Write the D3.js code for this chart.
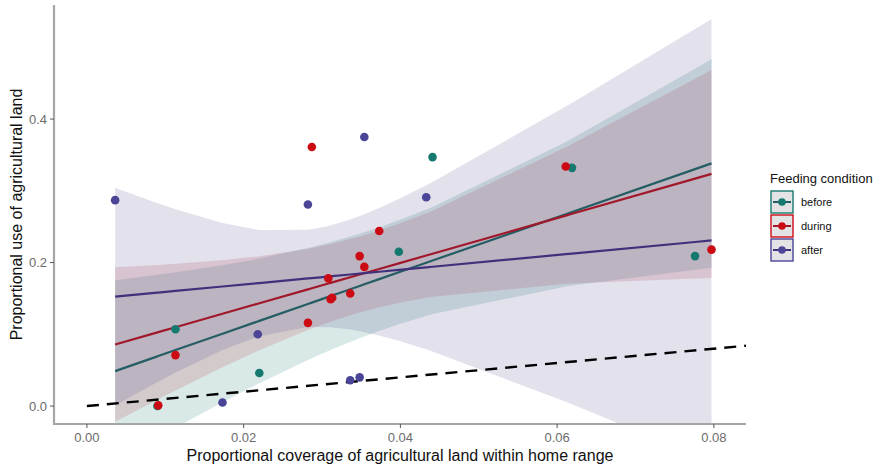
<!DOCTYPE html>
<html lang="en">
<head>
    <meta charset="UTF-8">
    <script src="https://d3js.org/d3.v7.min.js"></script>
    <title>Agricultural land use</title>
    <style>
        body { margin: 0; background: #fff; }
        text { font-family: "Liberation Sans", Arial, sans-serif; }
    </style>
</head>
<body>
<svg width="881" height="466" id="chart"></svg>
<script>
    // Data
    const conditions = ["before", "during", "after"];

    const beforeX = [0.0090, 0.0113, 0.0220, 0.0398, 0.0441, 0.0619, 0.0776];
    const beforeY = [0.000, 0.107, 0.046, 0.215, 0.347, 0.332, 0.209];

    const duringX = [0.0091, 0.0113, 0.0282, 0.0287, 0.0308, 0.0311, 0.0313, 0.0336, 0.0348, 0.0354, 0.0373, 0.0611, 0.0797];
    const duringY = [0.001, 0.071, 0.116, 0.361, 0.178, 0.149, 0.151, 0.157, 0.209, 0.194, 0.244, 0.334, 0.218];

    const afterX = [0.0036, 0.0173, 0.0218, 0.0282, 0.0336, 0.0348, 0.0354, 0.0433];
    const afterY = [0.287, 0.005, 0.100, 0.281, 0.036, 0.040, 0.375, 0.291];

    const xTicks = [0.00, 0.02, 0.04, 0.06, 0.08];
    const yTicks = [0.0, 0.2, 0.4];

    // colours for points, fitted lines and the confidence ribbons
    const pointColor = { before: "#15796f", during: "#cc0a14", after: "#4a4597" };
    const lineColor = { before: "#245e64", during: "#a1182b", after: "#41317c" };
    const ribbonColor = { before: "#1d7c75", during: "#b41d30", after: "#3d3480" };
    const ribbonAlpha = { before: 0.17, during: 0.15, after: 0.15 };

    // one model, use ~ coverage * condition, so the residual error is shared.
    // 90% band: t quantile for df = 28 - 6 = 22
    const tCrit = 1.717;

    const groups = [
        { name: "before", xs: beforeX, ys: beforeY },
        { name: "during", xs: duringX, ys: duringY },
        { name: "after", xs: afterX, ys: afterY }
    ];

    const svg = d3.select("#chart");

    const padLeft = 54, padRight = 746, padTop = 5, padBottom = 424;

    const x = d3.scaleLinear().domain([-0.0042, 0.0841]).range([padLeft, padRight]);
    const y = d3.scaleLinear().domain([-0.025, 0.559]).range([padBottom, padTop]);

    svg.append("clipPath").attr("id", "panel")
        .append("rect")
        .attr("x", padLeft).attr("y", padTop)
        .attr("width", padRight - padLeft).attr("height", padBottom - padTop);

    const plot = svg.append("g").attr("clip-path", "url(#panel)");

    // predictions are made at every observed coverage value
    const allX = beforeX.concat(duringX, afterX);
    const grid = Array.from(new Set(allX)).sort(d3.ascending);

    // per-group straight line fits
    let sseTotal = 0, nTotal = 0;
    const fits = groups.map(g => {
        const n = g.xs.length;
        const mx = d3.mean(g.xs), my = d3.mean(g.ys);
        let sxx = 0, sxy = 0;
        for (let i = 0; i < n; i++) {
            sxx += (g.xs[i] - mx) * (g.xs[i] - mx);
            sxy += (g.xs[i] - mx) * (g.ys[i] - my);
        }
        const b = sxy / sxx;
        const a = my - b * mx;
        for (let i = 0; i < n; i++) {
            const r = g.ys[i] - (a + b * g.xs[i]);
            sseTotal += r * r;
        }
        nTotal += n;
        return { name: g.name, n: n, mx: mx, sxx: sxx, a: a, b: b };
    });

    const sPooled = Math.sqrt(sseTotal / (nTotal - 2 * groups.length));

    fits.forEach(f => {
        f.rows = grid.map(g => {
            const fitY = f.a + f.b * g;
            const se = sPooled * Math.sqrt(1 / f.n + (g - f.mx) * (g - f.mx) / f.sxx);
            return { x: g, y: fitY, lo: fitY - tCrit * se, hi: fitY + tCrit * se };
        });
    });

    // ribbons first, then the fitted lines
    fits.forEach(f => {
        plot.append("path")
            .datum(f.rows)
            .attr("d", d3.area().x(d => x(d.x)).y0(d => y(d.lo)).y1(d => y(d.hi)))
            .style("fill", ribbonColor[f.name])
            .style("fill-opacity", ribbonAlpha[f.name])
            .style("stroke", "none");
    });

    fits.forEach(f => {
        plot.append("path")
            .datum(f.rows)
            .attr("d", d3.line().x(d => x(d.x)).y(d => y(d.y)))
            .style("fill", "none")
            .style("stroke", lineColor[f.name])
            .style("stroke-width", 2.2);
    });

    // 1:1 reference line
    plot.append("line")
        .attr("x1", x(0)).attr("y1", y(0))
        .attr("x2", x(0.0841)).attr("y2", y(0.0841))
        .style("stroke", "#000")
        .style("stroke-width", 2.4)
        .style("stroke-dasharray", "12,8");

    groups.forEach(g => {
        g.xs.forEach((v, i) => {
            plot.append("circle")
                .attr("cx", x(v))
                .attr("cy", y(g.ys[i]))
                .attr("r", 4.3)
                .style("fill", pointColor[g.name]);
        });
    });

    // axes
    const axisGrey = "#a6a6a6";
    svg.append("line")
        .attr("x1", padLeft).attr("y1", padTop).attr("x2", padLeft).attr("y2", padBottom + 1)
        .style("stroke", axisGrey).style("stroke-width", 2.2);
    svg.append("line")
        .attr("x1", padLeft - 1).attr("y1", padBottom).attr("x2", padRight).attr("y2", padBottom)
        .style("stroke", axisGrey).style("stroke-width", 2.2);

    yTicks.forEach(t => {
        svg.append("line")
            .attr("x1", padLeft - 4).attr("x2", padLeft)
            .attr("y1", y(t)).attr("y2", y(t))
            .style("stroke", "#555").style("stroke-width", 1);
        svg.append("text")
            .attr("x", padLeft - 7).attr("y", y(t) + 4.5)
            .attr("text-anchor", "end")
            .style("font-size", "13px").style("fill", "#6b6b6b")
            .text(t.toFixed(1));
    });

    xTicks.forEach(t => {
        svg.append("line")
            .attr("x1", x(t)).attr("x2", x(t))
            .attr("y1", padBottom).attr("y2", padBottom + 4)
            .style("stroke", "#555").style("stroke-width", 1);
        svg.append("text")
            .attr("x", x(t)).attr("y", padBottom + 18)
            .attr("text-anchor", "middle")
            .style("font-size", "13px").style("fill", "#6b6b6b")
            .text(t.toFixed(2));
    });

    svg.append("text")
        .attr("x", (padLeft + padRight) / 2).attr("y", 461)
        .attr("text-anchor", "middle")
        .style("font-size", "16px").style("fill", "#111")
        .text("Proportional coverage of agricultural land within home range");

    svg.append("text")
        .attr("transform", "translate(22," + ((padTop + padBottom) / 2) + ") rotate(-90)")
        .attr("text-anchor", "middle")
        .style("font-size", "16px").style("fill", "#111")
        .text("Proportional use of agricultural land");

    // legend
    svg.append("text")
        .attr("x", 770).attr("y", 183)
        .style("font-size", "13px").style("fill", "#111")
        .text("Feeding condition");

    conditions.forEach((c, i) => {
        const ky = 191 + i * 24;
        svg.append("rect")
            .attr("x", 771).attr("y", ky)
            .attr("width", 22).attr("height", 22)
            .style("fill", "#e3e3e6")
            .style("stroke", pointColor[c])
            .style("stroke-width", 1.4);
        svg.append("line")
            .attr("x1", 773).attr("x2", 791)
            .attr("y1", ky + 11).attr("y2", ky + 11)
            .style("stroke", lineColor[c]).style("stroke-width", 2);
        svg.append("circle")
            .attr("cx", 782).attr("cy", ky + 11).attr("r", 3.8)
            .style("fill", pointColor[c]);
        svg.append("text")
            .attr("x", 801).attr("y", ky + 15)
            .style("font-size", "11px").style("fill", "#111")
            .text(c);
    });
</script>
</body>
</html>
